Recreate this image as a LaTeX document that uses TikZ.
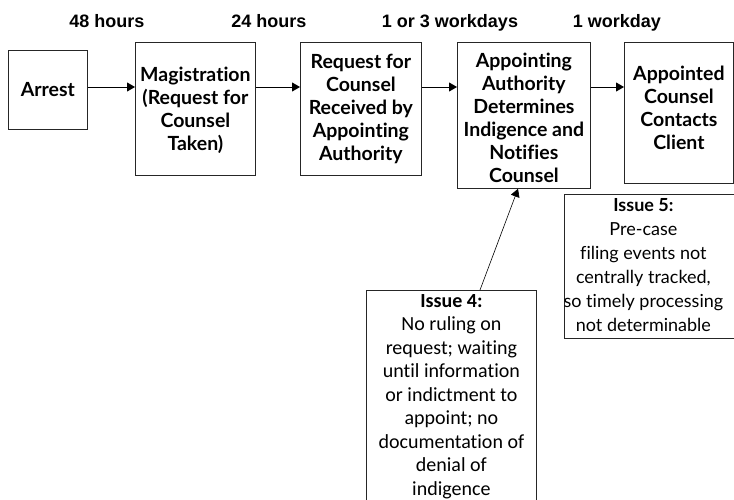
\documentclass[tikz,border=0pt]{standalone}
\usepackage{fontspec}
\setmainfont{Lato}[Ligatures={NoCommon,NoDiscretionary}]
\newfontfamily\calib{Carlito}[Ligatures={NoCommon,NoDiscretionary}]
\newfontfamily\arialf{Liberation Sans}
\usetikzlibrary{arrows.meta}
\begin{document}
\begin{tikzpicture}[x=1pt,y=-1pt,
  box/.style={draw=black!85, line width=0.8pt, inner sep=0pt, anchor=north west},
  btxt/.style={align=center, font=\fontsize{19.5}{23}\selectfont\bfseries, inner sep=0pt},
  lab/.style={font=\arialf\fontsize{18}{20}\selectfont\bfseries, anchor=base},
  arr/.style={-{Triangle[length=8pt,width=9pt]}, line width=0.8pt}]
\useasboundingbox (0,0) rectangle (734,499);
\clip (0,0) rectangle (734,499);
\fill[white] (0,0) rectangle (734,499);
% top labels
\node[lab] (l1) at (107,27) {48 hours};
\node[lab] (l2) at (269,27) {24 hours};
\node[lab] (l3) at (450,27) {1 or 3 workdays};
\node[lab] (l4) at (617,27) {1 workday};
% boxes
\node[box, minimum width=79pt, minimum height=79pt] (arrest) at (8,50) {};
\node[box, minimum width=120pt, minimum height=133pt] (mag) at (135,42) {};
\node[box, minimum width=121pt, minimum height=133pt] (req) at (300,42) {};
\node[box, minimum width=133pt, minimum height=146pt] (auth) at (457,42) {};
\node[box, minimum width=109pt, minimum height=141pt] (appt) at (624,42) {};
\node[box, minimum width=180pt, minimum height=144pt] (iss5) at (564,194) {};
\node[box, minimum width=170pt, minimum height=230pt] (iss4) at (366,290) {};
% texts
\node[btxt] (arrestt) at (arrest.center) {Arrest};
\node[btxt] (magt) at ([yshift=-1pt]mag.center) {Magistration\\(Request for\\Counsel\\Taken)};
\node[btxt] (reqt) at (req.center) {Request for\\Counsel\\Received by\\Appointing\\Authority};
\node[btxt] (autht) at ([yshift=-2pt]auth.center) {Appointing\\Authority\\Determines\\Indigence and\\Notifies\\Counsel};
\node[btxt] (apptt) at ([yshift=5pt]appt.center) {Appointed\\Counsel\\Contacts\\Client};
\node[align=center, inner sep=0pt, anchor=north, font=\fontsize{18}{24}\selectfont] (iss5t) at ([xshift=-11pt,yshift=-4pt]iss5.north)
  {\textbf{Issue 5:}\\Pre-case\\filing events not\\centrally tracked,\\so timely processing\\not determinable};
\node[align=center, inner sep=0pt, anchor=north, font=\calib\fontsize{20}{23.5}\selectfont] (iss4t) at ([yshift=-4pt]iss4.north)
  {\textbf{Issue 4:}\\No ruling on\\request; waiting\\until information\\or indictment to\\appoint; no\\documentation of\\denial of\\indigence};
% arrows
\coordinate (row) at (0,87);
\draw[arr] (arrest.east |- row) -- (mag.west |- row);
\draw[arr] (mag.east |- row) -- (req.west |- row);
\draw[arr] (req.east |- row) -- (auth.west |- row);
\draw[arr] (auth.east |- row) -- (appt.west |- row);
\coordinate (c4) at (480,0);
\coordinate (c5) at (518,0);
\draw[arr, line width=0.6pt] (iss4.north -| c4) -- (auth.south -| c5);
\end{tikzpicture}
\end{document}
